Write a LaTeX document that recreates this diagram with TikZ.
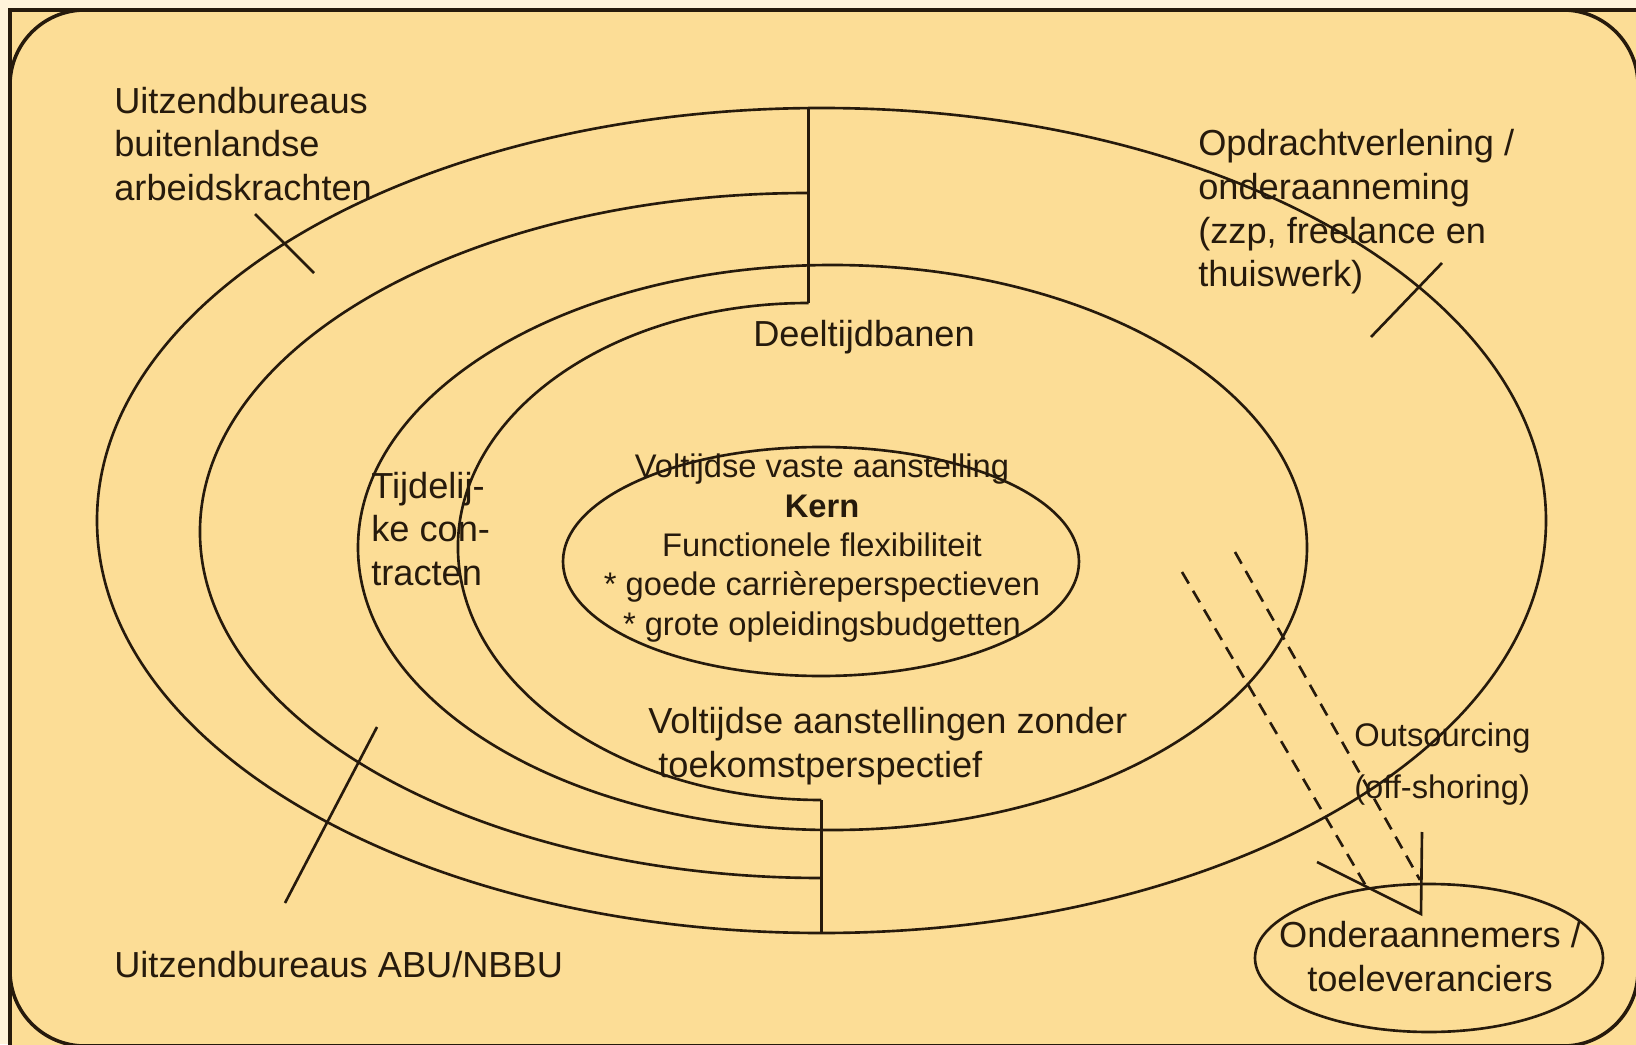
\documentclass[tikz,border=0pt]{standalone}
\usepackage{fontspec}
\setmainfont{Liberation Sans}
\usepackage{xcolor}
\usepackage{tikz}

\definecolor{paper}{RGB}{255,243,218}
\definecolor{bgorange}{RGB}{252,221,150}
\definecolor{ink}{RGB}{38,26,12}

\tikzset{
	lbl/.style={inner sep=0pt, text=ink, align=left, font=\fontsize{10.3}{12.4}\selectfont},
	kernlbl/.style={inner sep=0pt, text=ink, align=center, font=\fontsize{9.3}{11.2}\selectfont},
	outline/.style={draw=ink, line width=1pt},
	cutline/.style={draw=ink, line width=0.75pt, dash pattern=on 3.8pt off 2.4pt}
	}

\begin{document}
\begin{tikzpicture}[ink, line width=0.75pt]

            % Coordinates
            \coordinate(A) at (8.085,9.36);
            \coordinate(B) at (8.085,7.41);
            \coordinate(C) at (8.215,2.44);
            \coordinate(D) at (8.215,1.11);
            \coordinate(K) at (8.21,4.825);
            \coordinate(O) at (14.29,0.86);
            \coordinate(T) at (14.21,1.30);

            % Background
            \useasboundingbox (0,0) rectangle (16.36,10.44);
            \clip (0,0) rectangle (16.36,10.44);
            \fill[paper] (0,0) rectangle (16.36,10.44);
            \fill[bgorange] (0.10,-0.4) rectangle (16.7,10.34);
            \draw[outline] (0.10,-0.4) -- (0.10,10.34) -- (16.7,10.34);
            \draw[outline, rounded corners=0.75cm] (0.10,-0.02) rectangle (16.38,10.34);

            % Rings
            \draw (8.215,5.235) ellipse [x radius=7.245, y radius=4.125];
            \draw (8.325,4.965) ellipse [x radius=4.745, y radius=2.825];
            \draw[shift={(8.15,5.085)}, xslant=-0.019] (0,3.425) arc[start angle=90, end angle=270, x radius=6.15, y radius=3.425];
            \draw[shift={(8.15,4.925)}, xslant=-0.026] (0,2.485) arc[start angle=90, end angle=270, x radius=3.57, y radius=2.485];
            \draw (A) -- (B);
            \draw (C) -- (D);

            % Core and suppliers
            \draw (K) ellipse [x radius=2.58, y radius=1.145];
            \draw (O) ellipse [x radius=1.74, y radius=0.74];

            % Pointers
            \draw (2.55,8.30) -- (3.14,7.71);
            \draw (3.77,3.17) -- (2.85,1.41);
            \draw (14.42,7.81) -- (13.71,7.07);

            % Outsourcing
            \draw[cutline] (11.82,4.72) -- (13.66,1.58);
            \draw[cutline] (12.35,4.92) -- (14.20,1.64);
            \draw (13.17,1.82) -- (T) -- (14.22,2.12);

            % Labels
            \node[lbl, anchor=west] (buitenland) at (1.13,9.00) {Uitzendbureaus\\buitenlandse\\arbeidskrachten};
            \node[lbl, anchor=west] (opdracht) at (11.97,8.32) {Opdrachtverlening /\\onderaanneming\\(zzp, freelance en\\thuiswerk)};
            \node[lbl] (deeltijd) at (8.64,7.07) {Deeltijdbanen};
            \node[lbl, anchor=west] (tijdelijk) at (3.70,5.15) {Tijdelij-\\ke con-\\tracten};
            \node[kernlbl] (kern) at (8.22,4.96) {Voltijdse vaste aanstelling\\\textbf{Kern}\\Functionele flexibiliteit\\* goede carrièreperspectieven\\* grote opleidingsbudgetten};
            \node[lbl, anchor=west] (zonder) at (6.47,2.98) {Voltijdse aanstellingen zonder\\\hspace*{0.1cm}toekomstperspectief};
            \node[lbl, anchor=west, font=\fontsize{9.3}{14.8}\selectfont] (outsourcing) at (13.53,2.80) {Outsourcing\\(off-shoring)};
            \node[lbl, align=center] (onder) at (14.30,0.875) {Onderaannemers /\\toeleveranciers};
            \node[lbl, anchor=west] (abu) at (1.13,0.79) {Uitzendbureaus ABU/NBBU};

\end{tikzpicture}
\end{document}
